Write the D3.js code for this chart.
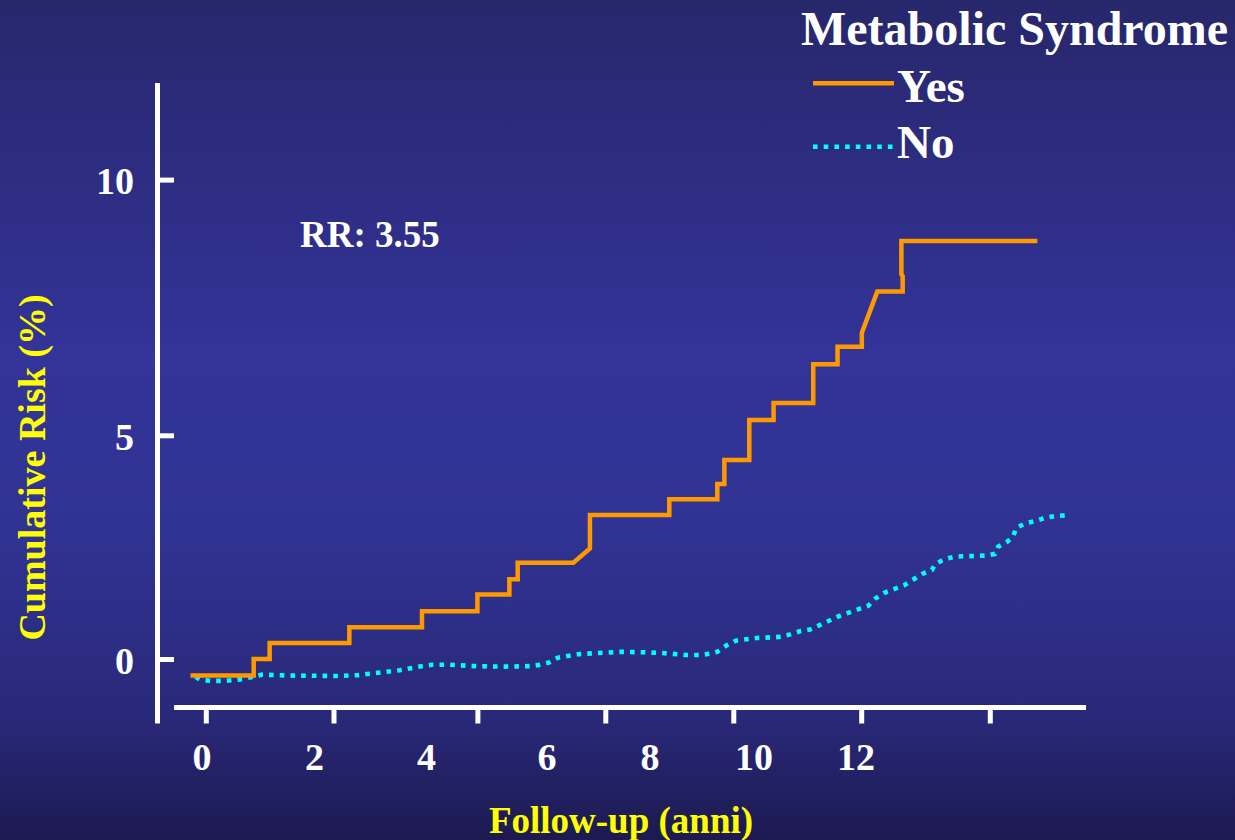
<!DOCTYPE html>
<html>
<head>
<meta charset="utf-8">
<script src="https://cdn.jsdelivr.net/npm/d3@7"></script>
<style>
  html, body { margin: 0; padding: 0; overflow: hidden; background: #2a2a7a; }
  svg { display: block; }
  text { font-family: "Liberation Serif", "Times New Roman", serif; font-weight: bold; }
</style>
</head>
<body>
<svg id="chart" width="1235" height="840"></svg>
<script>
// ---------------- DATA ----------------
const xTicks = [0, 2, 4, 6, 8, 10, 12];
const xTickLabels = ["0", "2", "4", "6", "8", "10", "12"];
const yTicks = [0, 5, 10];
const yTickLabels = ["0", "5", "10"];
const legendTitle = "Metabolic Syndrome";
const seriesNames = ["Yes", "No"];
const annotation = "RR: 3.55";
const xTitle = "Follow-up (anni)";
const yTitle = "Cumulative Risk (%)";

// Metabolic syndrome: Yes (step curve, corners listed)
const yesTime = [-0.24, 0.75, 0.75, 1.0, 1.0, 2.22, 2.22, 3.23, 3.23, 4.0,
                 4.0, 4.5, 4.5, 4.63, 4.63, 5.5, 5.76, 5.76, 7.0, 7.0,
                 7.75, 7.75, 7.86, 7.86, 8.25, 8.25, 8.63, 8.63, 9.25, 9.25,
                 9.63, 9.63, 10.01, 10.01, 10.25, 10.645, 10.645, 10.625, 10.625, 12.74];
const yesRisk = [-0.37, -0.37, 0, 0, 0.36, 0.36, 0.71, 0.71, 1.07, 1.07,
                 1.44, 1.44, 1.78, 1.78, 2.15, 2.15, 2.47, 3.22, 3.22, 3.57,
                 3.57, 3.91, 3.91, 4.45, 4.45, 5.30, 5.30, 5.63, 5.63, 6.39,
                 6.39, 6.73, 6.73, 7.0, 7.81, 7.81, 8.11, 8.15, 8.80, 8.80];

// Metabolic syndrome: No
const noTime = [-0.16, -0.09, 0.07, 0.31, 0.57, 0.73, 0.88, 1.32, 2.09, 2.34,
                2.65, 2.92, 3.23, 3.37, 3.62, 3.97, 4.43, 4.82, 4.98, 5.12,
                5.26, 5.6, 6.23, 6.62, 6.93, 7.25, 7.48, 7.64, 7.75, 7.89,
                8.04, 8.36, 8.7, 8.89, 9.04, 9.2, 9.34, 9.64, 9.95, 10.11,
                10.22, 10.36, 10.51, 10.67, 10.95, 11.1, 11.15, 11.29, 11.46, 11.93,
                12.08, 12.13, 12.27, 12.36, 12.41, 12.55, 12.72, 12.87, 13.03, 13.19];
const noRisk = [-0.40, -0.46, -0.49, -0.49, -0.45, -0.40, -0.35, -0.37, -0.38, -0.36,
                -0.30, -0.25, -0.16, -0.13, -0.13, -0.16, -0.17, -0.16, -0.13, -0.08,
                0.03, 0.11, 0.16, 0.15, 0.13, 0.09, 0.09, 0.12, 0.16, 0.30,
                0.41, 0.47, 0.49, 0.55, 0.62, 0.66, 0.75, 0.95, 1.11, 1.19,
                1.35, 1.48, 1.56, 1.65, 1.90, 1.99, 2.12, 2.23, 2.29, 2.31,
                2.35, 2.51, 2.62, 2.73, 2.93, 3.03, 3.09, 3.16, 3.20, 3.21];

// ---------------- LAYOUT ----------------
const W = 1235, H = 840;
const colors = { Yes: "#ff9900", No: "#00ffff" };

const svg = d3.select("#chart");

// background gradient
const defs = svg.append("defs");
const grad = defs.append("linearGradient").attr("id", "bg")
  .attr("x1", 0).attr("y1", 0).attr("x2", 0).attr("y2", 1);
[[0, "#27276c"], [0.42, "#333399"], [0.62, "#313394"], [0.85, "#29297a"], [1, "#1c1a50"]]
  .forEach(([o, c]) => grad.append("stop").attr("offset", o).attr("stop-color", c));
svg.append("rect").attr("width", W).attr("height", H).attr("fill", "url(#bg)");

// scales (slide axis is hand-spaced, so piecewise-linear ranges)
const x = d3.scaleLinear().domain(xTicks).range([205.8, 333.5, 477.4, 605.3, 733.3, 861.2, 989.8]);
const xLab = d3.scaleLinear().domain(xTicks).range([202, 314.5, 426.5, 547, 650, 754, 856]);
const y = d3.scaleLinear().domain(yTicks).range([659, 435.3, 179.6]);

const axisColor = "#ffffff";
const axisW = 5;

// y axis line
const yAxisX = 157.5;
svg.append("line").attr("x1", yAxisX).attr("x2", yAxisX).attr("y1", 83).attr("y2", 723.5)
  .attr("stroke", axisColor).attr("stroke-width", axisW);
// y ticks (to the right of the axis)
const gy = svg.append("g").attr("transform", `translate(${yAxisX},0)`)
  .call(d3.axisRight(y).tickValues(yTicks).tickSize(16.5).tickFormat(""));
gy.select(".domain").remove();
gy.selectAll(".tick line").attr("stroke", axisColor).attr("stroke-width", axisW);
// y tick labels
svg.append("g").selectAll("text").data(yTicks).join("text")
  .attr("x", 134).attr("y", d => y(d) + 14.5)
  .attr("text-anchor", "end").attr("fill", "#ffffff").attr("font-size", 38)
  .text((d, i) => yTickLabels[i]);

// x axis line
const xAxisY = 707.5;
svg.append("line").attr("x1", 174).attr("x2", 1086).attr("y1", xAxisY).attr("y2", xAxisY)
  .attr("stroke", axisColor).attr("stroke-width", axisW);
const gx = svg.append("g").attr("transform", `translate(0,${xAxisY})`)
  .call(d3.axisBottom(x).tickValues(xTicks).tickSize(16).tickFormat(""));
gx.select(".domain").remove();
gx.selectAll(".tick line").attr("stroke", axisColor).attr("stroke-width", axisW);
// x tick labels
svg.append("g").selectAll("text").data(xTicks).join("text")
  .attr("x", d => xLab(d)).attr("y", 769.5)
  .attr("text-anchor", "middle").attr("fill", "#ffffff").attr("font-size", 38)
  .text((d, i) => xTickLabels[i]);

// axis titles
svg.append("text").attr("x", 621).attr("y", 832.5).attr("text-anchor", "middle")
  .attr("fill", "#ffff00").attr("font-size", 37).text(xTitle);
svg.append("text").attr("transform", "translate(45,467.5) rotate(-90)").attr("text-anchor", "middle")
  .attr("fill", "#ffff00").attr("font-size", 38).text(yTitle);

// annotation
svg.append("text").attr("x", 300).attr("y", 246.5).attr("fill", "#ffffff")
  .attr("font-size", 37).text(annotation);

// series
const line = d3.line().x(d => x(d[0])).y(d => y(d[1]));
const yesData = yesTime.map((t, i) => [t, yesRisk[i]]);
const noData = noTime.map((t, i) => [t, noRisk[i]]);

svg.append("path").datum(noData).attr("d", line)
  .attr("fill", "none").attr("stroke", colors.No).attr("stroke-width", 4.6)
  .attr("stroke-dasharray", "4.6,6.1");
svg.append("path").datum(yesData).attr("d", line)
  .attr("fill", "none").attr("stroke", colors.Yes).attr("stroke-width", 4.5)
  .attr("stroke-linejoin", "miter");

// legend
svg.append("text").attr("x", 801).attr("y", 45).attr("fill", "#ffffff")
  .attr("font-size", 48).text(legendTitle);
const legY = [83.3, 146.7];
const legText = [101.5, 158];
seriesNames.forEach((n, i) => {
  svg.append("line").attr("x1", 813).attr("x2", 894).attr("y1", legY[i]).attr("y2", legY[i])
    .attr("stroke", colors[n]).attr("stroke-width", 4.5)
    .attr("stroke-dasharray", n === "No" ? "4.6,6.1" : null);
  svg.append("text").attr("x", 897).attr("y", legText[i]).attr("fill", "#ffffff")
    .attr("font-size", 47).text(n);
});
</script>
</body>
</html>
